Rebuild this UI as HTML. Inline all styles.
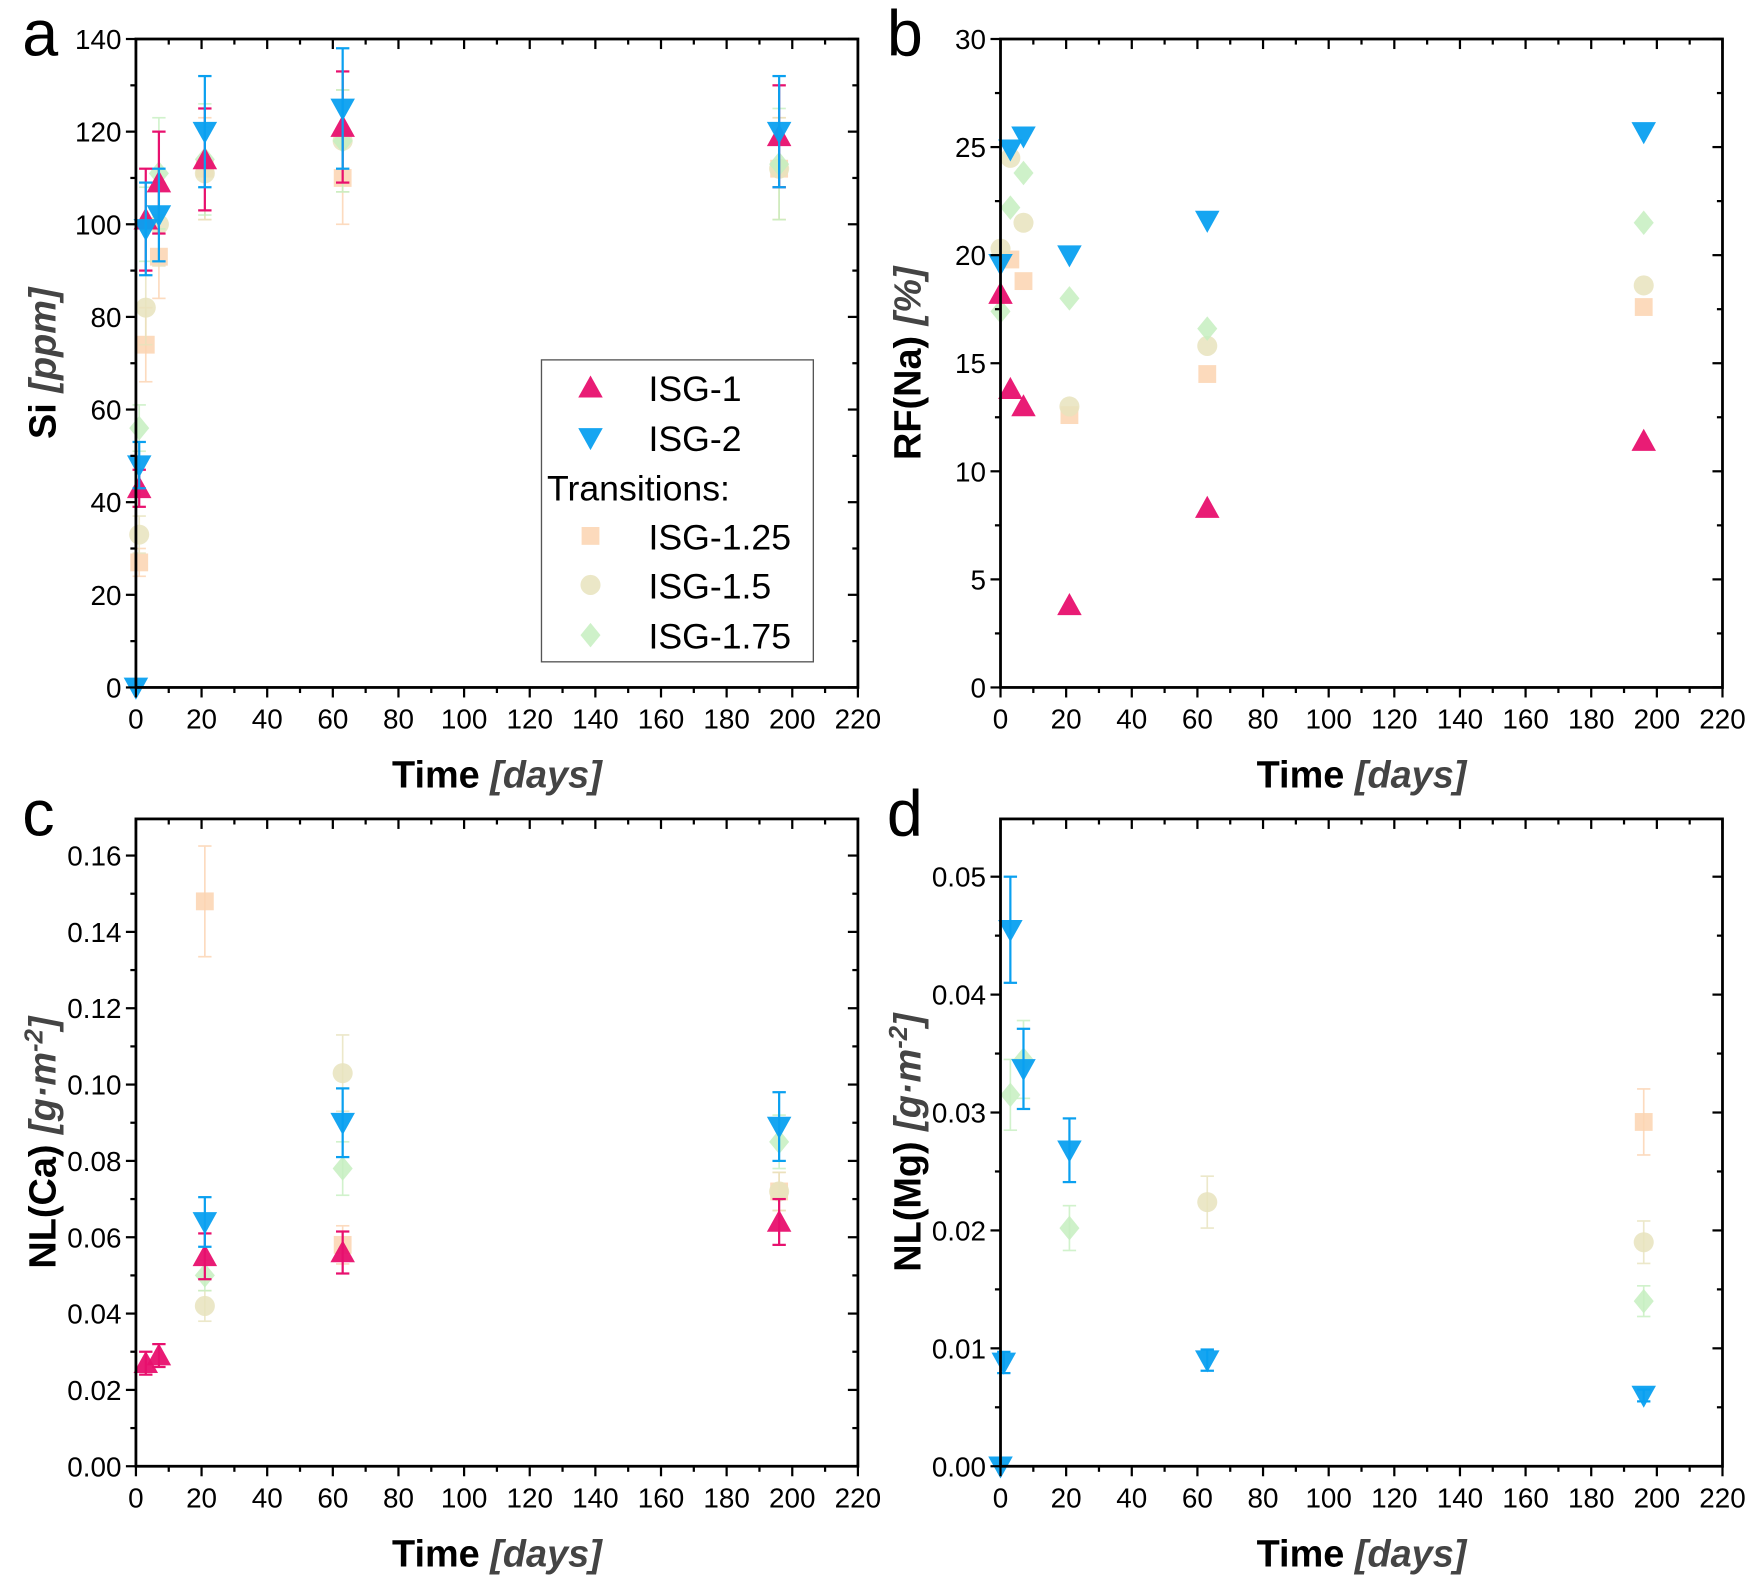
<!DOCTYPE html>
<html><head><meta charset="utf-8"><style>html,body{margin:0;padding:0;background:#fff}svg{display:block}</style></head>
<body>
<svg id="s" xmlns="http://www.w3.org/2000/svg" width="1747" height="1575" viewBox="0 0 1568 1413.6" font-family="Liberation Sans, Arial, sans-serif"></svg>
<script>
const S=document.getElementById('s');let h='';
const C={i1:'#e8106e',i2:'#0aa0f0',a:'#fcd3b0',b:'#e8e3bd',c:'#c6efc0'};
const OP={i1:0.95,i2:0.95,a:0.85,b:0.85,c:0.85};
function mk(t,x,y,r){r=r||11;const col=C[t],o=OP[t];
 if(t=='i1')return `<polygon points="${x},${y-r} ${x-r},${y+r*0.8} ${x+r},${y+r*0.8}" fill="${col}" fill-opacity="${o}"/>`;
 if(t=='i2')return `<polygon points="${x},${y+r} ${x-r},${y-r*0.8} ${x+r},${y-r*0.8}" fill="${col}" fill-opacity="${o}"/>`;
 if(t=='a')return `<rect x="${x-8}" y="${y-8}" width="16" height="16" fill="${col}" fill-opacity="${o}"/>`;
 if(t=='b')return `<circle cx="${x}" cy="${y}" r="9" fill="${col}" fill-opacity="${o}"/>`;
 return `<polygon points="${x},${y-11} ${x-9},${y} ${x},${y+11} ${x+9},${y}" fill="${col}" fill-opacity="${o}"/>`;}
function panel(P){const {L,R,T,B,ymax,ystep,yminor,dec,letter,ylab,data}=P;
 const X=d=>L+d*(R-L)/220, Y=v=>B-v*(B-T)/ymax;
 for(const k of ['a','b','c','i1','i2']){if(!data[k])continue;for(const p of data[k]){
  const x=X(p[0]),y=Y(p[1]);if(p[2]){const col=C[k],w=(k=='i1'||k=='i2')?2:1.5;
   h+=`<g stroke="${col}" stroke-width="${w}" opacity="${k.startsWith('i')?1:0.8}"><line x1="${x}" y1="${Y(p[1]-p[2])}" x2="${x}" y2="${Y(p[1]+p[2])}"/><line x1="${x-6}" y1="${Y(p[1]-p[2])}" x2="${x+6}" y2="${Y(p[1]-p[2])}"/><line x1="${x-6}" y1="${Y(p[1]+p[2])}" x2="${x+6}" y2="${Y(p[1]+p[2])}"/></g>`;}
  h+=mk(k,x,y);}}
 h+=`<rect x="${L}" y="${T}" width="${R-L}" height="${B-T}" fill="none" stroke="#000" stroke-width="2.5"/>`;
 for(let d=0;d<=220;d+=10){const x=X(d),M=d%20==0,l=M?9:5;
  h+=`<line x1="${x}" y1="${B}" x2="${x}" y2="${B+l}" stroke="#000" stroke-width="2"/><line x1="${x}" y1="${T}" x2="${x}" y2="${T+l}" stroke="#000" stroke-width="2"/>`;
  if(M)h+=`<text x="${x}" y="${B+37}" font-size="25" text-anchor="middle">${d}</text>`;}
 for(let i=0;;i++){const v=i*yminor;if(v>ymax+1e-9)break;const y=Y(v);const M=Math.abs(v/ystep-Math.round(v/ystep))<1e-6,l=M?9:5;
  h+=`<line x1="${L-l}" y1="${y}" x2="${L}" y2="${y}" stroke="#000" stroke-width="2"/><line x1="${R-l}" y1="${y}" x2="${R}" y2="${y}" stroke="#000" stroke-width="2"/>`;
  if(M)h+=`<text x="${L-13}" y="${y+9}" font-size="25" text-anchor="end">${v.toFixed(dec)}</text>`;}
 h+=`<text x="${(L+R)/2}" y="${B+90}" font-size="34" font-weight="bold" text-anchor="middle">Time <tspan font-style="italic" fill="#444">[days]</tspan></text>`;
 h+=`<text transform="translate(${L-72},${(T+B)/2}) rotate(-90)" font-size="34" font-weight="bold" text-anchor="middle">${ylab}</text>`;
 h+=`<text x="${L-102}" y="${T+15}" font-size="58">${letter}</text>`;}
panel({L:122,R:770,T:35,B:617,ymax:140,ystep:20,yminor:10,dec:0,letter:'a',ylab:'Si <tspan font-style="italic" fill="#444">[ppm]</tspan>',
 data:{a:[[1,27,3],[3,74,8],[7,93,9],[21,112,11],[63,110,10],[196,112,11]],
 b:[[1,33,4],[3,82,8],[7,100,9],[21,111,10],[63,118,11],[196,112,11]],
 c:[[1,56,5],[3,100,8],[7,111,12],[21,114,12],[63,118,11],[196,113,12]],
 i1:[[1,43,4],[3,101,11],[7,109,11],[21,114,11],[63,121,12],[196,119,11]],
 i2:[[0,0,0],[1,48,5],[3,99,10],[7,102,10],[21,120,12],[63,125,13],[196,120,12]]}});
panel({L:898,R:1546,T:35,B:617,ymax:30,ystep:5,yminor:2.5,dec:0,letter:'b',ylab:'RF(Na) <tspan font-style="italic" fill="#444">[%]</tspan>',
 data:{a:[[3,19.8],[7,18.8],[21,12.6],[63,14.5],[196,17.6]],
 b:[[0,20.3],[3,24.5],[7,21.5],[21,13],[63,15.8],[196,18.6]],
 c:[[0,17.4],[3,22.2],[7,23.8],[21,18],[63,16.6],[196,21.5]],
 i1:[[0,18.2],[3,13.8],[7,13],[21,3.8],[63,8.3],[196,11.4]],
 i2:[[0,19.6],[3,24.9],[7,25.5],[21,20],[63,21.6],[196,25.7]]}});
panel({L:122,R:770,T:735,B:1316,ymax:0.1696,ystep:0.02,yminor:0.01,dec:2,letter:'c',ylab:'NL(Ca) <tspan font-style="italic" fill="#444">[g·m<tspan dy="-12" font-size="23">-2</tspan><tspan dy="12">]</tspan></tspan>',
 data:{a:[[21,0.148,0.0145],[63,0.058,0.005],[196,0.072,0.005]],
 b:[[21,0.042,0.004],[63,0.103,0.010],[196,0.072,0.005]],
 c:[[21,0.050,0.004],[63,0.078,0.007],[196,0.085,0.007]],
 i1:[[3,0.027,0.003],[7,0.029,0.003],[21,0.055,0.006],[63,0.056,0.0055],[196,0.064,0.006]],
 i2:[[21,0.064,0.0065],[63,0.090,0.009],[196,0.089,0.009]]}});
panel({L:898,R:1546,T:735,B:1316,ymax:0.0549,ystep:0.01,yminor:0.005,dec:2,letter:'d',ylab:'NL(Mg) <tspan font-style="italic" fill="#444">[g·m<tspan dy="-12" font-size="23">-2</tspan><tspan dy="12">]</tspan></tspan>',
 data:{a:[[196,0.0292,0.0028]],b:[[63,0.0224,0.0022],[196,0.019,0.0018]],
 c:[[3,0.0315,0.003],[7,0.0345,0.0033],[21,0.0202,0.0019],[196,0.014,0.0013]],
 i2:[[0,0,0],[1,0.0088,0.0009],[3,0.0455,0.0045],[7,0.0337,0.0034],[21,0.0268,0.0027],[63,0.009,0.0009],[196,0.006,0.0005]]}});
h+=`<rect x="486" y="323" width="244" height="271" fill="#fff" stroke="#555" stroke-width="1.2"/>`;
const le=[['i1','ISG-1',348],['i2','ISG-2',393],[null,'Transitions:',437],['a','ISG-1.25',481],['b','ISG-1.5',525],['c','ISG-1.75',570]];
for(const [k,t,y] of le){if(k){h+=mk(k,530,y);h+=`<text x="582" y="${y+12}" font-size="32">${t}</text>`;}else h+=`<text x="491" y="${y+12}" font-size="32">${t}</text>`;}
S.innerHTML=h;
</script>
</body></html>
